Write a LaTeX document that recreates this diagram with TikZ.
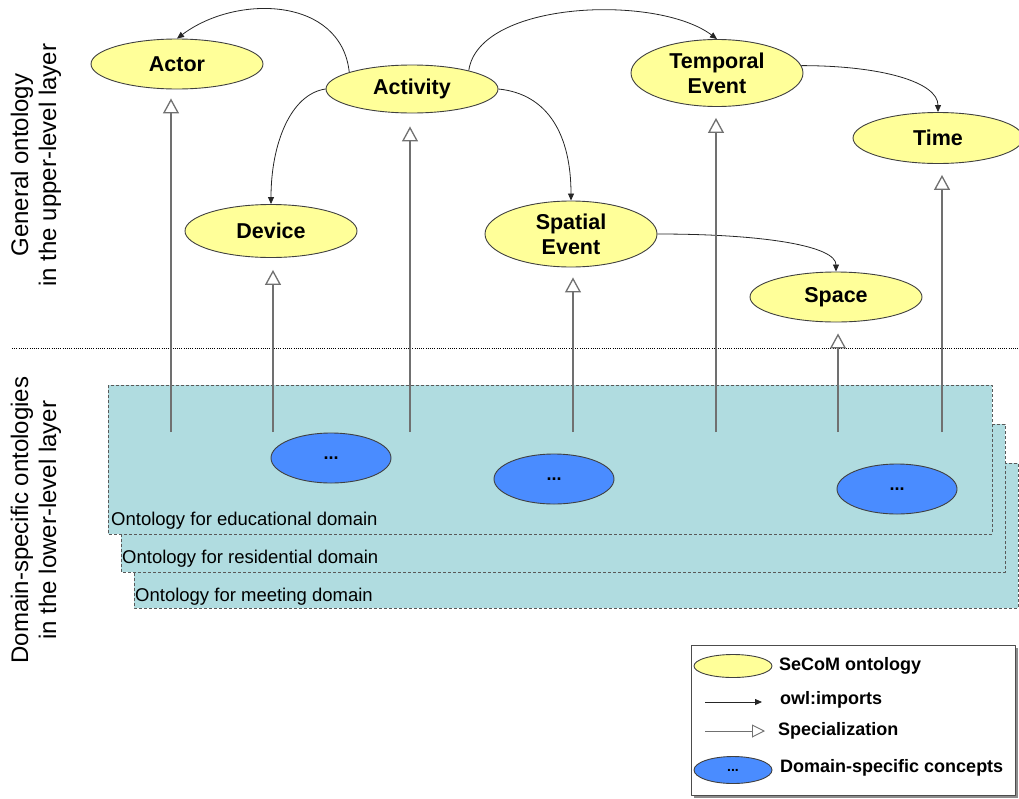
\documentclass[tikz,border=0pt]{standalone}
\usepackage{fontspec}
\setmainfont{Liberation Sans}
\usetikzlibrary{arrows.meta,shapes.geometric}
\definecolor{secomyellow}{HTML}{FFFF99}
\definecolor{domainblue}{HTML}{4A8CFF}
\definecolor{layerteal}{HTML}{B0DCE0}
\definecolor{specgray}{HTML}{707070}

\begin{document}
\begin{tikzpicture}[
  x=1pt,
  y=-1pt,
  line join=round,
  concept/.style={ellipse,draw=black!75,fill=secomyellow,line width=0.9pt,inner sep=0pt,
    align=center,font=\bfseries\fontsize{21.5}{25}\selectfont},
  domainconcept/.style={ellipse,draw=black!75,fill=domainblue,line width=0.9pt,inner sep=0pt,
    minimum width=120pt,minimum height=50pt,font=\bfseries\fontsize{18}{20}\selectfont},
  imports/.style={draw=black!85,line width=0.8pt,-{Triangle[length=7pt,width=6pt]}},
  special/.style={draw=specgray,line width=1.3pt,-{Triangle[length=15pt,width=16pt,fill=white]}},
  layerbox/.style={draw=black!65,fill=layerteal,line width=0.8pt,dash pattern=on 3pt off 2pt},
  boxlabel/.style={anchor=base west,inner sep=0pt,font=\fontsize{18.5}{22}\selectfont},
  layerlabel/.style={rotate=90,align=center,inner sep=0pt,font=\fontsize{24}{28}\selectfont},
  legendtext/.style={anchor=west,inner sep=0pt,font=\bfseries\fontsize{18}{20}\selectfont}
]
  % Fix the canvas to the artwork size.
  \useasboundingbox (0,0) rectangle (1019,798);

  % Lower layer: stacked domain ontologies, back to front.
  \draw[layerbox] (134,463) rectangle (1018,608);
  \draw[layerbox] (121,424) rectangle (1005,572);
  \draw[layerbox] (108,385) rectangle (992,534);
  \node[boxlabel] (meetinglabel) at (135,601) {Ontology for meeting domain};
  \node[boxlabel] (residentiallabel) at (122,563) {Ontology for residential domain};
  \node[boxlabel] (educationlabel) at (111,525) {Ontology for educational domain};

  % Domain-specific concepts.
  \node[domainconcept] (domainA) at (331,458) {...};
  \node[domainconcept] (domainB) at (554,479) {...};
  \node[domainconcept] (domainC) at (897,489) {...};

  % Layer separator and side captions.
  \draw[line width=1pt,dash pattern=on 1pt off 1.2pt] (12,348) -- (1019,348);
  \node[layerlabel] (upperlabel) at (36,165) {General ontology\\in the upper-level layer};
  \node[layerlabel] (lowerlabel) at (36,520) {Domain-specific ontologies\\in the lower-level layer};

  % Upper layer: SeCoM ontology concepts.
  \node[concept,minimum width=172pt,minimum height=50pt] (actor) at (177,64) {Actor};
  \node[concept,minimum width=172pt,minimum height=48pt] (activity) at (412,89) {Activity};
  \node[concept,minimum width=172pt,minimum height=67pt] (temporal) at (717,73) {Temporal\\Event};
  \node[concept,minimum width=170pt,minimum height=51pt] (time) at (938,138) {Time};
  \node[concept,minimum width=172pt,minimum height=53pt] (device) at (271,231) {Device};
  \node[concept,minimum width=172pt,minimum height=66pt] (spatial) at (571,234) {Spatial\\Event};
  \node[concept,minimum width=172pt,minimum height=50pt] (space) at (836,297) {Space};

  % owl:imports relations.
  \draw[imports] (activity.165) .. controls +(-8,-75) and +(60,-45) .. (actor.north);
  \draw[imports] (activity.18) .. controls +(10,-70) and +(-60,-45) .. (temporal.north);
  \draw[imports] (activity.west) .. controls +(-35,5) and +(0,-60) .. (device.north);
  \draw[imports] (activity.east) .. controls +(50,5) and +(0,-65) .. (spatial.north);
  \draw[imports] (temporal.5) .. controls +(80,0) and +(0,-30) .. (time.north);
  \draw[imports] (spatial.east) .. controls +(110,0) and +(0,-25) .. (space.north);

  % Specialization from the domain layer up to the general concepts.
  \foreach \name/\xpos/\gap in {actor/171/9,device/273/12,activity/410/13,spatial/573/10,
      temporal/716/11,space/838/11,time/942/11} {
    \coordinate (\name-foot) at (\xpos,432);
    \draw[special,shorten >=\gap pt] (\name-foot) -- (\name-foot |- \name.south);
  }

  % Legend.
  \fill[black!45] (694,648) rectangle (1018,798);
  \draw[draw=black!70,fill=white,line width=0.8pt] (691,645) rectangle (1015,795);
  \node[concept,minimum width=78pt,minimum height=23pt] (keyconcept) at (733,666) {};
  \node[legendtext] (keyconcepttext) at (779,666) {SeCoM ontology};
  \coordinate (keyimportsA) at (705,702);
  \coordinate (keyimportsB) at (762,702);
  \draw[imports] (keyimportsA) -- (keyimportsB);
  \node[legendtext] (keyimportstext) at (780,700) {owl:imports};
  \coordinate (keyspecA) at (705,731);
  \coordinate (keyspecB) at (765,731);
  \draw[special,line width=0.9pt,-{Triangle[length=13pt,width=13pt,fill=white]}] (keyspecA) -- (keyspecB);
  \node[legendtext] (keyspectext) at (778,731) {Specialization};
  \node[domainconcept,minimum width=78pt,minimum height=27pt,font=\bfseries\fontsize{14}{16}\selectfont] (keydomain) at (733,770) {...};
  \node[legendtext] (keydomaintext) at (780,768) {Domain-specific concepts};
\end{tikzpicture}
\end{document}
